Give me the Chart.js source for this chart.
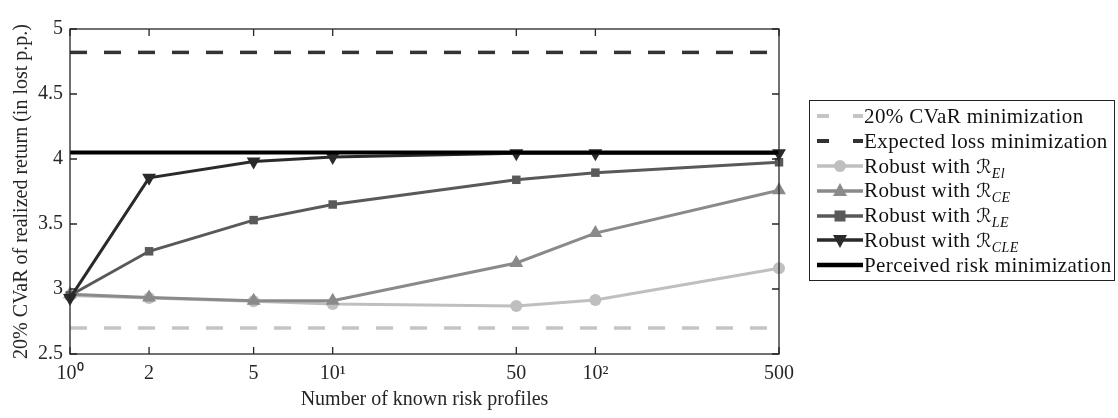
<!DOCTYPE html>
<html>
<head>
<meta charset="utf-8">
<script src="https://cdn.jsdelivr.net/npm/chart.js@4.4.0/dist/chart.umd.min.js"></script>
<style>
  html, body { margin: 0; padding: 0; background: #fff; }
  #wrap { position: relative; width: 1118px; height: 418px; }
  #legend {
    position: absolute; left: 809px; top: 100px; width: 306px; height: 181px;
    border: 1.3px solid #222; box-sizing: border-box; padding-top: 3px;
    font-family: "Liberation Serif", serif; font-size: 21px; letter-spacing: 0.4px; color: #111;
  }
  .row { height: 24.8px; display: flex; align-items: center; white-space: nowrap; }
  .row svg { margin-left: 7px; margin-right: 1px; flex: none; }
  .R { font-family: "DejaVu Serif", "DejaVu Sans", serif; font-style: italic; font-size: 19px; }
  .sub { font-style: italic; font-size: 14px; position: relative; top: 5px; }
</style>
</head>
<body>
<div id="wrap">
  <canvas id="chart" width="1118" height="418"></canvas>
  <div id="legend"></div>
</div>
<script>
// number of known risk profiles (log axis)
const knownProfiles = [1, 2, 5, 10, 50, 100, 500];
const xTickValues = [1, 2, 5, 10, 50, 100, 500];
const xTickLabels = ["10⁰", "2", "5", "10¹", "50", "10²", "500"];
const yTickValues = [2.5, 3, 3.5, 4, 4.5, 5];

// 20% CVaR of realized return, lost p.p.
const cvarMinimization = 2.7;
const expectedLossMinimization = 4.82;
const perceivedRiskMinimization = 4.05;
const robustEl  = [2.95, 2.93, 2.905, 2.885, 2.87, 2.915, 3.16];
const robustCE  = [2.96, 2.935, 2.91, 2.91, 3.20, 3.43, 3.76];
const robustLE  = [2.95, 3.29, 3.53, 3.65, 3.84, 3.895, 3.975];
const robustCLE = [2.93, 3.855, 3.98, 4.015, 4.045, 4.045, 4.045];

const xMin = knownProfiles[0];
const xMax = knownProfiles[knownProfiles.length - 1];
const flat = v => [{ x: xMin, y: v }, { x: xMax, y: v }];
const curve = arr => knownProfiles.map((x, i) => ({ x: x, y: arr[i] }));

const datasets = [
  { label: "20% CVaR minimization", data: flat(cvarMinimization), borderColor: "#c4c4c4",
    borderWidth: 3.5, borderDash: [17, 17], pointRadius: 0 },
  { label: "Expected loss minimization", data: flat(expectedLossMinimization), borderColor: "#333333",
    borderWidth: 3.5, borderDash: [17, 17], pointRadius: 0 },
  { label: "Robust with", sub: "El", data: curve(robustEl), borderColor: "#bfbfbf",
    borderWidth: 3, pointStyle: "circle", pointRadius: 6 },
  { label: "Robust with", sub: "CE", data: curve(robustCE), borderColor: "#8a8a8a",
    borderWidth: 3, pointStyle: "triangle", pointRadius: 8 },
  { label: "Robust with", sub: "LE", data: curve(robustLE), borderColor: "#595959",
    borderWidth: 3, pointStyle: "rect", pointRadius: 6 },
  { label: "Robust with", sub: "CLE", data: curve(robustCLE), borderColor: "#2a2a2a",
    borderWidth: 3, pointStyle: "triangle", pointRotation: 180, pointRadius: 8 },
  { label: "Perceived risk minimization", data: flat(perceivedRiskMinimization), borderColor: "#000000",
    borderWidth: 4, pointRadius: 0 }
];
datasets.forEach((d, i) => {
  d.order = datasets.length - i;   // later series on top, like the original
  d.clip = false;
  d.tension = 0;
  d.pointBorderWidth = 0;
  d.pointBackgroundColor = d.borderColor;
});

const font = { family: "'Liberation Serif', serif", size: 20 };

// box round the axes with inward ticks
const framePlugin = {
  id: "frame",
  afterDatasetsDraw(chart) {
    const { ctx, chartArea: a, scales } = chart;
    ctx.save();
    ctx.strokeStyle = "#262626";
    ctx.lineWidth = 1.3;
    ctx.strokeRect(a.left, a.top, a.right - a.left, a.bottom - a.top);
    ctx.beginPath();
    xTickValues.forEach(v => {
      const px = scales.x.getPixelForValue(v);
      ctx.moveTo(px, a.bottom); ctx.lineTo(px, a.bottom - 7);
      ctx.moveTo(px, a.top); ctx.lineTo(px, a.top + 7);
    });
    yTickValues.forEach(v => {
      const py = scales.y.getPixelForValue(v);
      ctx.moveTo(a.left, py); ctx.lineTo(a.left + 7, py);
      ctx.moveTo(a.right, py); ctx.lineTo(a.right - 7, py);
    });
    ctx.stroke();
    ctx.restore();
  }
};

new Chart(document.getElementById("chart"), {
  type: "line",
  data: { datasets: datasets },
  options: {
    responsive: false,
    animation: false,
    layout: { padding: { left: 0, right: 339, top: 29, bottom: 0 } },
    plugins: { legend: { display: false }, tooltip: { enabled: false } },
    scales: {
      x: {
        type: "logarithmic", min: xMin, max: xMax,
        afterBuildTicks: s => { s.ticks = xTickValues.map(v => ({ value: v })); },
        afterFit: s => { s.height = 64; },
        ticks: { font: font, color: "#262626", padding: 8, maxRotation: 0, autoSkip: false,
          callback: (v) => xTickLabels[xTickValues.indexOf(v)] },
        grid: { display: false, drawTicks: false },
        border: { display: false },
        title: { display: true, text: "Number of known risk profiles", font: font, color: "#262626",
          padding: { top: 0, bottom: 6 } }
      },
      y: {
        min: 2.5, max: 5,
        afterBuildTicks: s => { s.ticks = yTickValues.map(v => ({ value: v })); },
        afterFit: s => { s.width = 70; },
        ticks: { font: font, color: "#262626", padding: 7, callback: v => String(v) },
        grid: { display: false, drawTicks: false },
        border: { display: false },
        title: { display: true, text: "20% CVaR of realized return (in lost p.p.)", font: font, color: "#262626",
          padding: { top: 10, bottom: 0 } }
      }
    }
  },
  plugins: [framePlugin]
});

// legend built from the same dataset styles
const legend = document.getElementById("legend");
datasets.forEach(d => {
  const row = document.createElement("div");
  row.className = "row";
  const c = d.borderColor;
  let marker = "";
  if (d.pointStyle === "circle") marker = `<circle cx="23" cy="10" r="6" fill="${c}"/>`;
  if (d.pointStyle === "rect") marker = `<rect x="17.5" y="4.5" width="11" height="11" fill="${c}"/>`;
  if (d.pointStyle === "triangle" && !d.pointRotation) marker = `<polygon points="23,2 30,15 16,15" fill="${c}"/>`;
  if (d.pointStyle === "triangle" && d.pointRotation) marker = `<polygon points="16,5 30,5 23,18" fill="${c}"/>`;
  const dash = d.borderDash ? `stroke-dasharray="12 24"` : "";
  row.innerHTML =
    `<svg width="46" height="20"><line x1="0" y1="10" x2="46" y2="10" stroke="${c}" stroke-width="${d.borderWidth + 0.5}" ${dash}/>${marker}</svg>` +
    `<span>${d.label}${d.sub ? ` <span class="R">ℛ</span><span class="sub">${d.sub}</span>` : ""}</span>`;
  legend.appendChild(row);
});
</script>
</body>
</html>
